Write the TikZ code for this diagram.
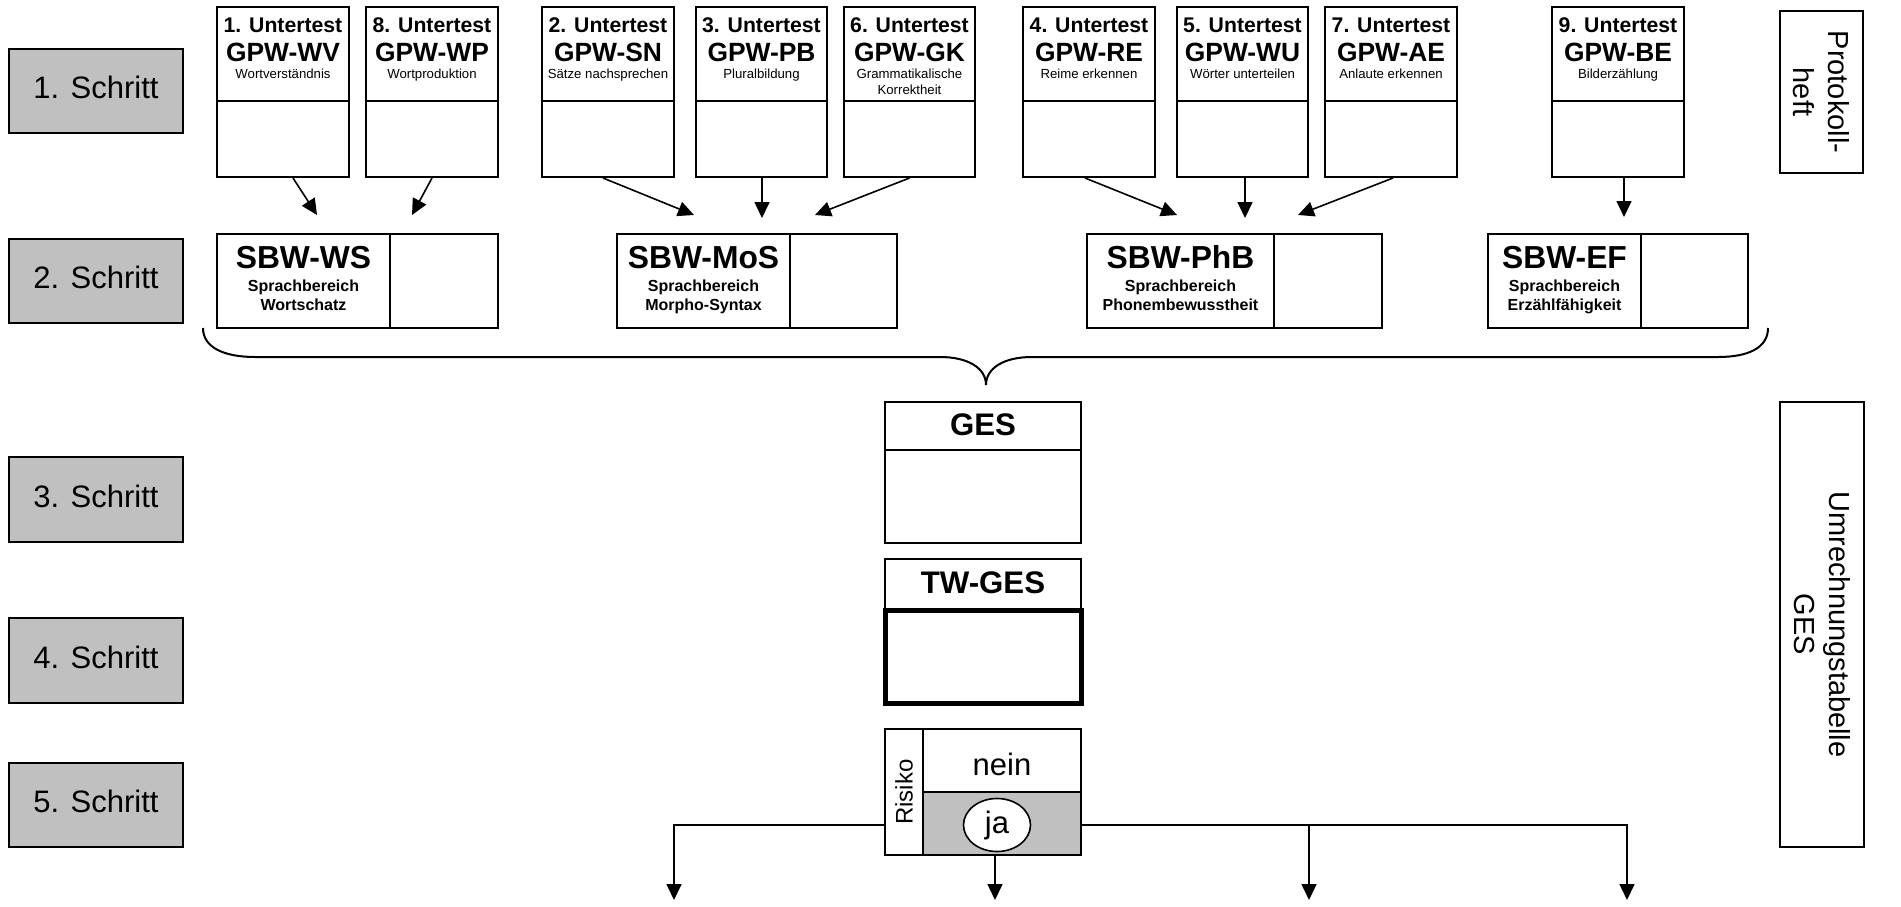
\documentclass[tikz,border=0pt]{standalone}
\usepackage{fontspec}
\setmainfont{Liberation Sans}
\usetikzlibrary{fit,arrows.meta,calc,shapes.geometric}
\definecolor{cellgray}{HTML}{C0C0C0}
\begin{document}
\begin{tikzpicture}[x=0.5pt,y=-0.5pt,
  box/.style={draw, line width=1pt, inner sep=0pt},
  schritt/.style={box, fill=cellgray},
  rule/.style={line width=1pt},
  conn/.style={line width=0.8pt, -{Triangle[length=8pt,width=7.5pt]}},
  stext/.style={anchor=base, font=\fontsize{15.5}{18}\selectfont},
  ttitle/.style={anchor=base, font=\fontsize{10.6}{12}\selectfont\bfseries},
  tcode/.style={anchor=base, font=\fontsize{13.2}{15}\selectfont\bfseries},
  tdesc/.style={anchor=base, font=\fontsize{6.6}{7.8}\selectfont},
  scode/.style={anchor=base, font=\fontsize{15.9}{18}\selectfont\bfseries},
  ssub/.style={anchor=base, font=\fontsize{8}{9.5}\selectfont\bfseries},
  bigbold/.style={anchor=base, font=\fontsize{15.6}{18}\selectfont\bfseries},
  sidetext/.style={rotate=-90, align=center, font=\fontsize{14.5}{17.5}\selectfont}
]
\useasboundingbox (0,0) rectangle (1901,906);

% step boxes
\foreach \n/\ya/\yb in {1/49/133, 2/239/323, 3/457/542, 4/618/703, 5/763/847}{
  \node[schritt, fit={(9,\ya) (183,\yb)}] (s\n) {};
  \node[stext] (st\n) at ([yshift=-3.75pt]s\n.center) {\n. Schritt};
}

% Untertest boxes
\foreach \n/\xa/\xb/\co/\da in {
  1/217/349/WV/Wortverständnis,
  8/366/498/WP/Wortproduktion,
  2/542/674/SN/Sätze nachsprechen,
  3/696/827/PB/Pluralbildung,
  6/844/975/GK/Grammatikalische,
  4/1023/1155/RE/Reime erkennen,
  5/1177/1308/WU/Wörter unterteilen,
  7/1325/1457/AE/Anlaute erkennen,
  9/1552/1684/BE/Bilderzählung}{
  \node[box, fit={(\xa,7) (\xb,177)}] (u\n) {};
  \draw[rule] (u\n.west |- 0,101) -- (u\n.east |- 0,101);
  \node[ttitle] (ut\n) at (u\n.north |- 0,32) {\n. Untertest};
  \node[tcode] (uc\n) at (u\n.north |- 0,61) {GPW-\co};
  \node[tdesc] (ud\n) at (u\n.north |- 0,78.5) {\da};
}
\node[tdesc] (ud6b) at (u6.north |- 0,94.5) {Korrektheit};

% SBW boxes
\foreach \n/\xa/\xb/\xd/\co/\sub in {
  WS/217/498/390/SBW-WS/Wortschatz,
  MoS/617/897/790/SBW-MoS/Morpho-Syntax,
  PhB/1087/1382/1274/SBW-PhB/Phonembewusstheit,
  EF/1488/1748/1641/SBW-EF/Erzählfähigkeit}{
  \node[box, fit={(\xa,234) (\xb,328)}] (b\n) {};
  \draw[rule] (b\n.north -| \xd,0) -- (b\n.south -| \xd,0);
  \pgfmathsetmacro{\xm}{(\xa+\xd)/2}
  \node[scode] (bc\n) at (\xm,268) {\co};
  \node[ssub] (bs\n) at (\xm,291) {Sprachbereich};
  \node[ssub] (bt\n) at (\xm,310) {\sub};
}

% arrows step 1 -> step 2
\coordinate (e1) at (317,215);
\coordinate (e8) at (412,215);
\coordinate (e2) at (694,215);
\coordinate (e3) at (762,218);
\coordinate (e6) at (815,215);
\coordinate (e4) at (1177,215);
\coordinate (e5) at (1245,218);
\coordinate (e7) at (1298,215);
\coordinate (e9) at (1624,217);
\draw[conn] ([xshift=5pt]u1.south) -- (e1);
\draw[conn] (u8.south) -- (e8);
\draw[conn] ([xshift=-2.5pt]u2.south) -- (e2);
\draw[conn] (u3.south -| e3) -- (e3);
\draw[conn] (u6.south) -- (e6);
\draw[conn] ([xshift=-2pt]u4.south) -- (e4);
\draw[conn] (u5.south -| e5) -- (e5);
\draw[conn] ([xshift=1pt]u7.south) -- (e7);
\draw[conn] (u9.south -| e9) -- (e9);

% brace
\draw[line width=1pt] (203,328) .. controls (203,348) and (225,357) .. (255,357)
  -- (940,357) .. controls (968,357) and (986,368) .. (986,385)
  .. controls (986,368) and (1004,357) .. (1032,357)
  -- (1718,357) .. controls (1748,357) and (1768,348) .. (1768,328);

% GES
\node[box, fit={(885,402) (1081,543)}] (ges) {};
\draw[rule] (ges.west |- 0,450) -- (ges.east |- 0,450);
\node[bigbold] (gest) at (ges.north |- 0,435) {GES};

% TW-GES
\node[box, fit={(885,559) (1081,610)}] (twh) {};
\node[box, line width=2.5pt, fit={(885,610.5) (1081,703.5)}] (twb) {};
\node[bigbold] (twt) at (twh.north |- 0,593) {TW-GES};

% Risiko
\fill[cellgray] (923,792) rectangle (1081,855);
\node[box, fit={(885,729) (1081,855)}] (rk) {};
\draw[rule] (rk.north -| 923,0) -- (rk.south -| 923,0);
\draw[rule] (923,792) -- (rk.east |- 0,792);
\node[anchor=base, font=\fontsize{15.5}{18}\selectfont] (nein) at (1002,775) {nein};
\node[draw, ellipse, fill=white, line width=0.8pt, inner sep=0pt,
      minimum width=33.5pt, minimum height=26.5pt,
      font=\fontsize{15.5}{18}\selectfont] (ja) at (997,825) {ja};
\node[rotate=90, font=\fontsize{12}{14}\selectfont] (risk) at (904,792) {Risiko};

% bottom connectors
\coordinate (l1) at (674,825);
\coordinate (r1) at (1627,825);
\coordinate (m1) at (1309,825);
\coordinate (t1) at (674,900);
\coordinate (t2) at (995,900);
\coordinate (t3) at (1309,900);
\coordinate (t4) at (1627,900);
\draw[conn] (rk.west |- l1) -- (l1) -- (t1);
\draw[conn] (rk.east |- r1) -- (r1) -- (t4);
\draw[conn] (m1) -- (t3);
\draw[conn] (rk.south -| t2) -- (t2);

% side labels
\node[box, fit={(1780,11) (1863,173)}] (proto) {};
\node[sidetext] (protot) at (proto.center) {Protokoll-\\heft};
\node[box, fit={(1780,402) (1864,847)}] (umr) {};
\node[sidetext] (umrt) at (umr.center) {Umrechnungstabelle\\GES};
\end{tikzpicture}
\end{document}
